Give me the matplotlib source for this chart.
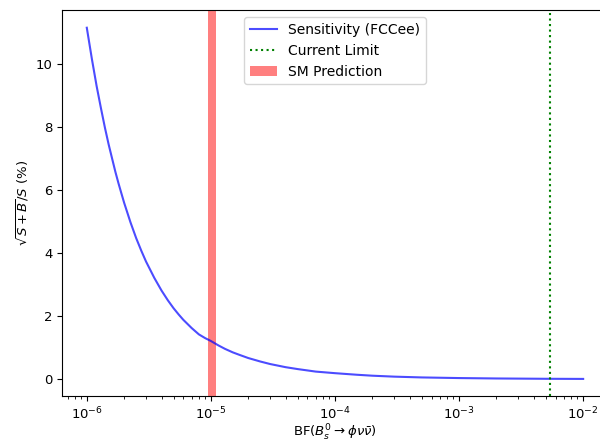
import numpy as np
import matplotlib
matplotlib.use("Agg")
import matplotlib.pyplot as plt

# values
bf = [1.0e-6, 1.1e-6, 1.2e-6, 1.3e-6, 1.4e-6, 1.5e-6, 1.6e-6, 1.7e-6, 1.8e-6,
      1.9e-6, 2.0e-6, 2.25e-6, 2.5e-6, 2.75e-6, 3.0e-6, 3.5e-6, 4.0e-6, 4.5e-6,
      5.0e-6, 5.5e-6, 6.0e-6, 7.0e-6, 8.0e-6, 9.0e-6, 1.0e-5, 1.15e-5, 1.3e-5,
      1.5e-5, 1.7e-5, 2.0e-5, 2.5e-5, 3.0e-5, 4.0e-5, 5.0e-5, 7.0e-5, 1.0e-4,
      1.5e-4, 2.0e-4, 3.0e-4, 5.0e-4, 1.0e-3, 2.0e-3, 5.0e-3, 1.0e-2]
sensitivity = [11.15, 10.15, 9.3, 8.6, 7.98, 7.45, 7.0, 6.58, 6.22,
               5.9, 5.6, 4.98, 4.48, 4.08, 3.74, 3.22, 2.82, 2.51,
               2.26, 2.06, 1.89, 1.63, 1.43, 1.31, 1.22, 1.08, 0.97,
               0.86, 0.78, 0.68, 0.57, 0.49, 0.39, 0.33, 0.25, 0.20,
               0.15, 0.12, 0.09, 0.065, 0.045, 0.032, 0.022, 0.018]

current_limit = 5.4e-3
sm_low, sm_high = 9.5e-6, 1.1e-5

plt.rcParams["font.size"] = 9.5

fig = plt.figure(figsize=(6.0, 4.42), dpi=100)
ax = fig.add_axes([0.1033, 0.103, 0.91, 0.874])

ax.plot(bf, sensitivity, color="blue", alpha=0.7, label="Sensitivity (FCCee)")
ax.axvline(current_limit, color="green", linestyle=":", label="Current Limit")
ax.axvspan(sm_low, sm_high, color="red", alpha=0.5, linewidth=0,
           label="SM Prediction")

ax.set_xscale("log")
ax.set_xlabel(r"BF($B_s^0\to\phi\nu\bar{\nu}$)", labelpad=0)
ax.set_ylabel(r"$\sqrt{S+B}/S$ (%)", labelpad=3)
ax.legend(loc="upper center", fontsize=10)

fig.savefig("out.png", dpi=100)
